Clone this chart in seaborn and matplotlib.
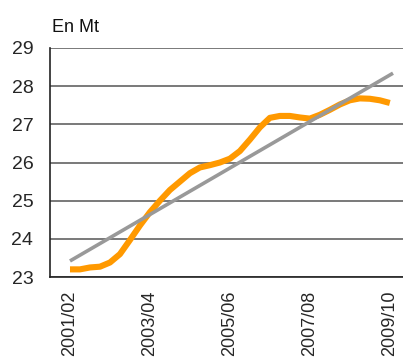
import matplotlib
matplotlib.use("Agg")
import matplotlib.pyplot as plt
import seaborn as sns
import pandas as pd
import numpy as np

# Quarterly observations, expressed in years since 2001/02
quarters = [0.0, 0.25, 0.5, 0.75, 1.0, 1.25, 1.5, 1.75, 2.0, 2.25, 2.5, 2.75,
            3.0, 3.25, 3.5, 3.75, 4.0, 4.25, 4.5, 4.75, 5.0, 5.25, 5.5, 5.75,
            6.0, 6.25, 6.5, 6.75, 7.0, 7.25, 7.5, 7.75, 8.0]
volume_mt = [23.2, 23.2, 23.25, 23.27, 23.38, 23.6, 23.97, 24.35, 24.7, 25.0,
             25.28, 25.5, 25.72, 25.87, 25.93, 26.0, 26.1, 26.3, 26.6, 26.92,
             27.17, 27.22, 27.22, 27.18, 27.15, 27.25, 27.38, 27.52, 27.63,
             27.68, 27.67, 27.63, 27.56]

# Linear trend end points
trend_x = [0.0, 8.08]
trend_y = [23.42, 28.34]

period_labels = ["2001/02", "2003/04", "2005/06", "2007/08", "2009/10"]
period_pos = [0, 2, 4, 6, 8]
y_ticks = [23, 24, 25, 26, 27, 28, 29]

sns.set_theme(style="white")
plt.rcParams["font.family"] = ["Liberation Sans Narrow", "Liberation Sans", "DejaVu Sans"]

fig = plt.figure(figsize=(4.03, 3.58), dpi=100)
ax = fig.add_axes([50 / 403, 81 / 358, 1 - 50 / 403, 229 / 358])

df = pd.DataFrame({"t": quarters, "v": volume_mt})
tr = pd.DataFrame({"t": trend_x, "v": trend_y})

sns.lineplot(data=df, x="t", y="v", ax=ax, color="#FF9900", linewidth=4.4,
             solid_joinstyle="round", solid_capstyle="butt", zorder=3)
sns.lineplot(data=tr, x="t", y="v", ax=ax, color="#999999", linewidth=2.6,
             solid_capstyle="butt", zorder=4)

ax.set_xlim(-0.5, 8.33)
ax.set_ylim(23, 29)
ax.set_yticks(y_ticks)
ax.set_yticklabels([str(v) for v in y_ticks], fontsize=14)
ax.yaxis.grid(True, color="#555555", linewidth=1.1)
ax.set_axisbelow(True)

ax.set_xticks(period_pos)
ax.set_xticklabels(period_labels, rotation=90, fontsize=13)
ax.tick_params(axis="x", which="major", length=0, pad=10)
ax.set_xticks([3.53, 7.6], minor=True)
ax.tick_params(axis="x", which="minor", direction="in", length=6, width=1, color="#333333")
ax.tick_params(axis="y", which="major", direction="in", length=6, width=1, color="#333333", pad=12)
ax.set_xlabel("")
ax.set_ylabel("")

for side in ["top", "right"]:
    ax.spines[side].set_visible(False)
for side in ["left", "bottom"]:
    ax.spines[side].set_color("#222222")
    ax.spines[side].set_linewidth(1.2)

fig.text(52 / 403, 1 - 27 / 358, "En Mt", fontsize=13, va="center", ha="left", color="#111111")

fig.savefig("out.png", dpi=100)
